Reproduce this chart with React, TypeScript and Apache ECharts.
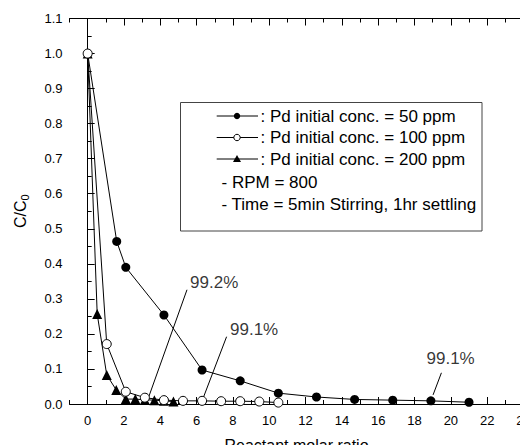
import React, { useEffect, useRef } from "react";
import * as echarts from "echarts";

// ---- data ----
const x50 = [0, 1.6, 2.1, 4.2, 6.3, 8.4, 10.5, 12.6, 14.7, 16.8, 18.9, 21.0];
const y50 = [1.0, 0.464, 0.39, 0.254, 0.097, 0.066, 0.031, 0.02, 0.013, 0.011, 0.009, 0.005];
const x100 = [0, 1.05, 2.1, 3.15, 4.2, 5.25, 6.3, 7.35, 8.4, 9.45, 10.5];
const y100 = [1.0, 0.171, 0.035, 0.018, 0.011, 0.009, 0.009, 0.008, 0.008, 0.007, 0.004];
const x200 = [0, 0.525, 1.05, 1.575, 2.1, 2.625, 3.15, 3.675, 4.2, 4.725];
const y200 = [1.0, 0.257, 0.083, 0.04, 0.014, 0.014, 0.012, 0.011, 0.009, 0.007];

const xTickLabels = [0, 2, 4, 6, 8, 10, 12, 14, 16, 18, 20, 22, 24];
const legendLabels = [
  ": Pd initial conc. = 50 ppm",
  ": Pd initial conc. = 100 ppm",
  ": Pd initial conc. = 200 ppm",
];
const noteLines = ["- RPM = 800", "- Time = 5min Stirring, 1hr settling"];

const annotTexts = ["99.2%", "99.1%", "99.1%"];
const annotTextX = [5.64, 7.84, 18.66];
const annotTextY = [0.346, 0.214, 0.131];
const arrowStartX = [5.47, 7.65, 19.48];
const arrowStartY = [0.326, 0.192, 0.089];
const arrowEndX = [3.32, 6.36, 19.02];
const arrowEndY = [0.014, 0.017, 0.026];

const FONT = '"Liberation Sans", Arial, Helvetica, sans-serif';

export default function App() {
  const ref = useRef<HTMLDivElement>(null);
  useEffect(() => {
    if (!ref.current) return;
    const chart = echarts.init(ref.current, null, { renderer: "svg" });
    const zip = (xs: number[], ys: number[]) => xs.map((x, i) => [x, ys[i]]);
    const black = "#000";
    const axisBase = {
      type: "value" as const,
      min: -1,
      max: 24,
      splitLine: { show: false },
      gridIndex: 0,
    };
    const legendX1 = 216.7;
    const legendX2 = 258;
    const legendMx = 237;
    const rowY = [116, 137.5, 159, 182, 204];
    const graphics: any[] = [
      {
        type: "rect",
        shape: { x: 180.5, y: 102.5, width: 301.5, height: 128.5 },
        style: { fill: "#fff", stroke: "#444", lineWidth: 1 },
        z: 10,
      },
    ];
    for (let i = 0; i < 3; i++) {
      const cy = rowY[i];
      graphics.push({
        type: "line",
        shape: { x1: legendX1, y1: cy, x2: legendX2, y2: cy },
        style: { stroke: black, lineWidth: 1 },
        z: 11,
      });
      if (i === 0) {
        graphics.push({ type: "circle", shape: { cx: legendMx, cy, r: 3.2 }, style: { fill: black }, z: 12 });
      } else if (i === 1) {
        graphics.push({ type: "circle", shape: { cx: legendMx, cy, r: 3.2 }, style: { fill: "#fff", stroke: black, lineWidth: 1 }, z: 12 });
      } else {
        graphics.push({
          type: "polygon",
          shape: { points: [[legendMx, cy - 4], [legendMx - 4, cy + 3], [legendMx + 4, cy + 3]] },
          style: { fill: black },
          z: 12,
        });
      }
      graphics.push({
        type: "text",
        x: 260.5,
        y: cy,
        style: { text: legendLabels[i], font: `17px ${FONT}`, fill: black, verticalAlign: "middle", align: "left" },
        z: 12,
      });
    }
    noteLines.forEach((t, j) => {
      graphics.push({
        type: "text",
        x: 221.5,
        y: rowY[3 + j],
        style: { text: t, font: `17px ${FONT}`, fill: black, verticalAlign: "middle", align: "left" },
        z: 12,
      });
    });

    chart.setOption({
      animation: false,
      backgroundColor: "#fff",
      grid: { left: 69.5, top: 18.5, width: 454, height: 385.5, containLabel: false, outerBoundsMode: "none" },
      xAxis: [
        {
          ...axisBase,
          position: "bottom",
          axisLine: { show: true, lineStyle: { color: black, width: 1 } },
          axisTick: { show: true, inside: true, length: 7, customValues: xTickLabels, lineStyle: { color: black } },
          axisLabel: { customValues: xTickLabels, fontSize: 13, color: black, fontFamily: FONT, margin: 10 },
          name: "Reactant molar ratio",
          nameLocation: "middle",
          nameGap: 33,
          nameTextStyle: { fontSize: 16, color: black, fontFamily: FONT },
        },
        {
          ...axisBase,
          position: "bottom",
          interval: 1,
          axisLine: { show: false },
          axisTick: { show: true, inside: true, length: 4, lineStyle: { color: black } },
          axisLabel: { show: false },
        },
        {
          ...axisBase,
          position: "top",
          axisLine: { show: true, lineStyle: { color: black, width: 1 } },
          axisTick: { show: true, inside: true, length: 7, customValues: xTickLabels, lineStyle: { color: black } },
          axisLabel: { show: false },
        },
        {
          ...axisBase,
          position: "top",
          interval: 1,
          axisLine: { show: false },
          axisTick: { show: true, inside: true, length: 4, lineStyle: { color: black } },
          axisLabel: { show: false },
        },
      ],
      yAxis: [
        {
          type: "value",
          min: 0,
          max: 1.1,
          interval: 0.1,
          position: "left",
          splitLine: { show: false },
          axisLine: { show: true, lineStyle: { color: black, width: 1 } },
          axisTick: { show: true, inside: true, length: 7, lineStyle: { color: black } },
          minorTick: { show: true, splitNumber: 2, length: 4, lineStyle: { color: black } },
          axisLabel: {
            fontSize: 13,
            color: black,
            fontFamily: FONT,
            margin: 7,
            formatter: (v: number) => v.toFixed(1),
          },
          name: "{a|C/C}{b|0}",
          nameLocation: "middle",
          nameRotate: 90,
          nameGap: 39,
          nameTextStyle: {
            rich: {
              a: { fontSize: 16, color: black, fontFamily: FONT },
              b: { fontSize: 11, color: black, fontFamily: FONT, padding: [9, 0, 0, 0] },
            },
          },
        },
      ],
      series: [
        {
          type: "line",
          data: zip(x50, y50),
          symbol: "circle",
          symbolSize: 9,
          itemStyle: { color: black },
          lineStyle: { color: black, width: 1 },
          z: 3,
          markLine: {
            silent: true,
            symbol: ["none", "arrow"],
            symbolSize: [0, 8],
            lineStyle: { color: black, width: 1, type: "solid" },
            label: { show: false },
            data: arrowStartX.map((sx, i) => [
              { coord: [sx, arrowStartY[i]] },
              { coord: [arrowEndX[i], arrowEndY[i]] },
            ]),
          },
        },
        {
          type: "line",
          data: zip(x200, y200),
          symbol: "triangle",
          symbolSize: 10,
          itemStyle: { color: black },
          lineStyle: { color: black, width: 1 },
          z: 4,
        },
        {
          type: "line",
          data: zip(x100, y100),
          symbol: "circle",
          symbolSize: 9,
          itemStyle: { color: "#fff", borderColor: black, borderWidth: 1 },
          lineStyle: { color: black, width: 1 },
          z: 5,
        },
        {
          type: "scatter",
          data: annotTextX.map((x, i) => ({ value: [x, annotTextY[i]], name: annotTexts[i] })),
          symbolSize: 0,
          label: {
            show: true,
            position: "right",
            distance: 0,
            formatter: (p: any) => p.name,
            fontSize: 17,
            color: black,
            fontFamily: FONT,
          },
          z: 6,
        },
      ],
      graphic: graphics,
    });
    return () => chart.dispose();
  }, []);
  return (
    <div style={{ position: "fixed", left: 0, top: 0, width: 520, height: 445, overflow: "hidden", background: "#fff" }}>
      <div ref={ref} style={{ width: 540, height: 445 }} />
    </div>
  );
}
